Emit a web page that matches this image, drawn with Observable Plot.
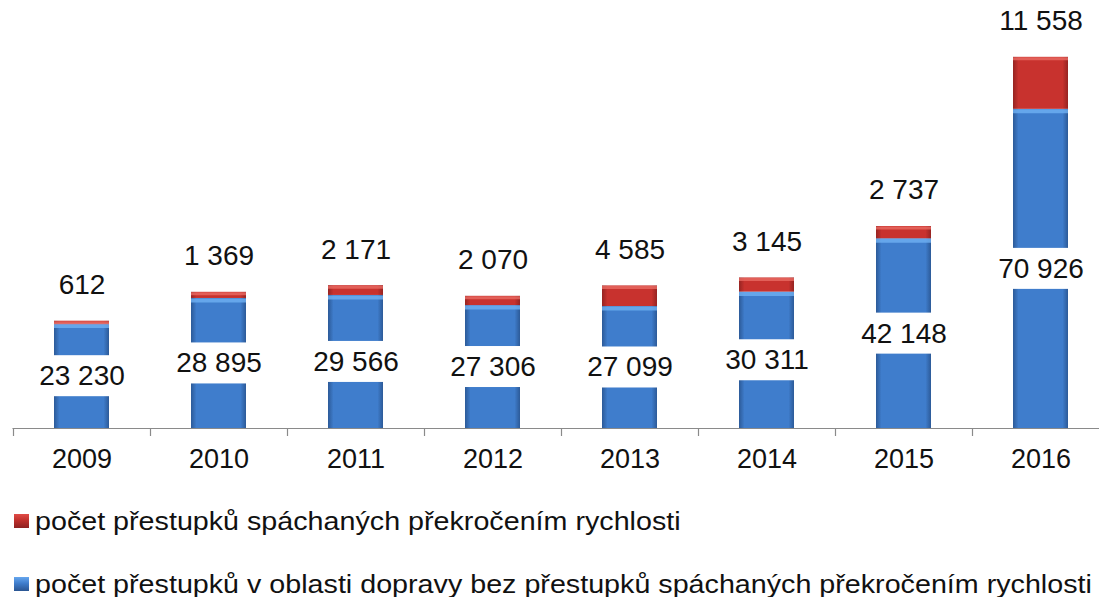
<!DOCTYPE html>
<html>
<head>
<meta charset="utf-8">
<script src="https://cdn.jsdelivr.net/npm/d3@7"></script>
<script src="https://cdn.jsdelivr.net/npm/@observablehq/plot@0.6"></script>
<style>
  html, body { margin: 0; padding: 0; background: #fff; overflow: hidden; }
  body { width: 1099px; height: 597px; font-family: Arial, "Liberation Sans", sans-serif; }
  #legend { padding-left: 14px; color: #111; }
  .row { display: flex; align-items: center; height: 40px; white-space: nowrap; }
  .row .sw { width: 15px; height: 14px; margin-right: 6px; flex: none; }
  .row .lab { font-size: 26px; transform: scaleX(1.103); transform-origin: 0 50%; display: inline-block; }
</style>
</head>
<body>
<div id="chart"></div>
<div id="legend"></div>
<script>
const years = ["2009", "2010", "2011", "2012", "2013", "2014", "2015", "2016"];
const otherOffences = [23230, 28895, 29566, 27306, 27099, 30311, 42148, 70926];
const speedingOffences = [612, 1369, 2171, 2070, 4585, 3145, 2737, 11558];
const seriesNames = [
  "počet přestupků spáchaných překročením rychlosti",
  "počet přestupků v oblasti dopravy bez přestupků spáchaných překročením rychlosti"
];

const rows = years.map((year, i) => ({
  year,
  other: otherOffences[i],
  speeding: speedingOffences[i],
  total: otherOffences[i] + speedingOffences[i]
}));

const fmt = v => d3.format(",")(v).replace(/,/g, " ");

const chart = Plot.plot({
  width: 1099,
  height: 490,
  marginLeft: 12.5,
  marginRight: -9.5,
  marginTop: 23,
  marginBottom: 62,
  style: { fontFamily: 'Arial, "Liberation Sans", sans-serif', fontSize: "27px", color: "#111", background: "#fff", overflow: "visible" },
  x: { domain: years, paddingInner: 0.6, paddingOuter: 0.3, align: 0.5, label: null, tickSize: 0, tickPadding: 20 },
  y: { domain: [0, 90000], axis: null },
  marks: [
    Plot.barY(rows, { x: "year", y1: 0, y2: "other", fill: "url(#gBlue)" }),
    Plot.barY(rows, { x: "year", y1: "other", y2: "total", fill: "url(#gRed)" }),
    Plot.tickY(rows, { x: "year", y: "other", stroke: "#6fb0f2", strokeWidth: 4, dy: 2, strokeOpacity: 0.8 }),
    Plot.tickY(rows, { x: "year", y: "total", stroke: "#e86a63", strokeWidth: 3, dy: 1.5, strokeOpacity: 0.8 }),
    Plot.ruleY([0], { stroke: "#8a8a8a", strokeWidth: 1.2 }),
    Plot.ruleX(rows, { x: "year", y1: 0, y2: 0, dx: -68.5, insetBottom: -8, stroke: "#8a8a8a", strokeWidth: 1.2 }),
    Plot.text(rows, { x: "year", y: "total", text: d => fmt(d.speeding), dy: -36, fontSize: 28, fill: "#111" }),
    Plot.text(rows, { x: "year", y: d => d.other / 2, text: d => fmt(d.other), fontSize: 28, fill: "#111" })
  ]
});

document.getElementById("chart").appendChild(chart);

// gradients
const svg = d3.select(chart);
const defs = svg.insert("defs", ":first-child");
function grad(id, edge, mid) {
  const g = defs.append("linearGradient").attr("id", id).attr("x1", "0").attr("x2", "1").attr("y1", "0").attr("y2", "0");
  [[0, edge], [0.1, mid], [0.9, mid], [1, edge]].forEach(([o, c]) =>
    g.append("stop").attr("offset", o).attr("stop-color", c));
}
grad("gBlue", "#2c5a98", "#3f7dcc");
grad("gRed", "#962422", "#c8322e");

// white boxes behind the in-bar labels (the last text mark)
const textGroups = svg.selectAll('g[aria-label="text"]').nodes();
const inBar = textGroups[textGroups.length - 1];
d3.select(inBar).selectAll("text").each(function () {
  const b = this.getBBox();
  const t = this.getAttribute("transform");
  const r = d3.select(this.parentNode).insert("rect", () => this)
    .attr("x", b.x - 3).attr("y", b.y - 5)
    .attr("width", b.width + 6).attr("height", b.height + 10)
    .attr("fill", "#fff").attr("stroke", "none");
  if (t) r.attr("transform", t);
});

// legend
const legend = d3.select("#legend");
const swatches = [
  "linear-gradient(180deg, #e04c47 0%, #c0302c 45%, #8e2120 100%)",
  "linear-gradient(180deg, #66a6ee 0%, #3f7dcc 45%, #2a5592 100%)"
];
seriesNames.forEach((name, i) => {
  const r = legend.append("div").attr("class", "row")
    .style("margin-top", i === 0 ? "11px" : "23px");
  r.append("div").attr("class", "sw").style("background", swatches[i]);
  r.append("span").attr("class", "lab").text(name);
});
</script>
</body>
</html>
